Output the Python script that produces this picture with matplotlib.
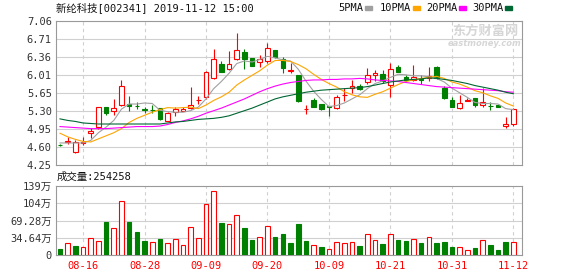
import matplotlib
matplotlib.use("Agg")
import matplotlib.pyplot as plt
from matplotlib.patches import Rectangle

# trading days shown on the chart
dates = ["08-13", "08-14", "08-15", "08-16", "08-19", "08-20", "08-21", "08-22", "08-23", "08-26",
         "08-27", "08-28", "08-29", "08-30", "09-02", "09-03", "09-04", "09-05", "09-06", "09-09",
         "09-10", "09-11", "09-12", "09-16", "09-17", "09-18", "09-19", "09-20", "09-23", "09-24",
         "09-25", "09-26", "09-27", "09-30", "10-08", "10-09", "10-10", "10-11", "10-14", "10-15",
         "10-16", "10-17", "10-18", "10-21", "10-22", "10-23", "10-24", "10-25", "10-28", "10-29",
         "10-30", "10-31", "11-01", "11-04", "11-05", "11-06", "11-07", "11-08", "11-11", "11-12"]

opens = [4.65, 4.70, 4.50, 4.67, 4.87, 4.99, 5.38, 5.30, 5.42, 5.45,
         5.41, 5.34, 5.33, 5.36, 5.11, 5.28, 5.31, 5.36, 5.51, 5.58,
         5.94, 6.22, 6.12, 6.31, 6.45, 6.33, 6.26, 6.28, 6.49, 6.32,
         6.09, 6.00, 5.34, 5.51, 5.44, 5.40, 5.36, 5.61, 5.75, 5.79,
         5.87, 6.01, 6.02, 5.81, 6.16, 5.96, 5.91, 5.92, 5.94, 6.17,
         5.75, 5.52, 5.37, 5.50, 5.55, 5.42, 5.41, 5.42, 5.01, 5.05]
highs = [4.66, 4.79, 4.74, 4.80, 4.97, 5.39, 5.39, 5.54, 5.91, 5.60,
         5.47, 5.39, 5.42, 5.37, 5.28, 5.39, 5.38, 5.77, 5.60, 6.08,
         6.51, 6.27, 6.48, 6.83, 6.51, 6.34, 6.40, 6.64, 6.50, 6.35,
         6.25, 6.01, 5.42, 5.55, 5.45, 5.41, 5.62, 5.75, 5.91, 5.84,
         6.14, 6.10, 6.10, 6.25, 6.20, 6.01, 6.20, 6.00, 6.17, 6.18,
         5.80, 5.57, 5.62, 5.56, 5.56, 5.75, 5.47, 5.43, 5.19, 5.36]
lows = [4.62, 4.66, 4.49, 4.64, 4.78, 4.95, 5.23, 5.23, 5.40, 5.31,
        5.34, 5.27, 5.27, 5.13, 5.10, 5.21, 5.30, 5.35, 5.44, 5.53,
        5.93, 6.06, 6.11, 6.30, 6.12, 6.18, 6.17, 6.24, 6.34, 6.04,
        6.04, 5.48, 5.25, 5.38, 5.32, 5.21, 5.35, 5.49, 5.65, 5.71,
        5.84, 5.88, 5.85, 5.57, 6.06, 5.87, 5.88, 5.84, 5.88, 5.93,
        5.53, 5.38, 5.34, 5.49, 5.38, 5.38, 5.32, 5.38, 4.97, 5.01]
closes = [4.64, 4.71, 4.70, 4.69, 4.91, 5.38, 5.27, 5.36, 5.79, 5.40,
          5.40, 5.33, 5.32, 5.14, 5.27, 5.34, 5.35, 5.43, 5.52, 6.07,
          6.31, 6.07, 6.23, 6.49, 6.32, 6.19, 6.31, 6.53, 6.35, 6.14,
          6.10, 5.49, 5.35, 5.39, 5.34, 5.39, 5.58, 5.62, 5.79, 5.73,
          6.00, 6.05, 5.88, 6.12, 6.07, 5.91, 5.96, 5.91, 5.98, 5.94,
          5.55, 5.39, 5.46, 5.51, 5.42, 5.47, 5.40, 5.39, 5.05, 5.34]

ma5 = [4.68, 4.68, 4.68, 4.68, 4.73, 4.88, 4.99, 5.12, 5.34, 5.44,
       5.44, 5.46, 5.45, 5.32, 5.29, 5.28, 5.28, 5.31, 5.38, 5.54,
       5.74, 5.88, 6.04, 6.23, 6.28, 6.26, 6.31, 6.37, 6.34, 6.30,
       6.28, 6.12, 5.89, 5.69, 5.53, 5.39, 5.41, 5.46, 5.54, 5.62,
       5.74, 5.84, 5.89, 5.96, 6.02, 6.01, 5.99, 5.99, 5.97, 5.94,
       5.87, 5.75, 5.66, 5.57, 5.47, 5.45, 5.45, 5.44, 5.35, 5.33]
ma10 = [4.87, 4.80, 4.75, 4.71, 4.70, 4.76, 4.82, 4.88, 4.96, 5.08,
        5.16, 5.22, 5.28, 5.33, 5.37, 5.36, 5.37, 5.38, 5.35, 5.42,
        5.51, 5.58, 5.67, 5.81, 5.91, 6.00, 6.09, 6.20, 6.29, 6.29,
        6.27, 6.21, 6.13, 6.02, 5.92, 5.84, 5.77, 5.68, 5.62, 5.58,
        5.57, 5.63, 5.68, 5.75, 5.82, 5.88, 5.91, 5.94, 5.96, 5.98,
        5.94, 5.87, 5.83, 5.77, 5.70, 5.66, 5.60, 5.55, 5.46, 5.40]
ma20 = [5.00, 4.99, 4.98, 4.97, 4.96, 4.96, 4.96, 4.97, 4.98, 4.99,
        5.00, 5.00, 5.00, 5.01, 5.04, 5.08, 5.11, 5.15, 5.20, 5.26,
        5.31, 5.36, 5.42, 5.48, 5.54, 5.61, 5.68, 5.74, 5.79, 5.83,
        5.86, 5.88, 5.90, 5.91, 5.91, 5.92, 5.92, 5.93, 5.93, 5.94,
        5.93, 5.91, 5.90, 5.89, 5.88, 5.86, 5.84, 5.82, 5.80, 5.78,
        5.77, 5.76, 5.75, 5.74, 5.73, 5.72, 5.71, 5.70, 5.68, 5.67]
ma30 = [5.15, 5.12, 5.10, 5.07, 5.06, 5.05, 5.05, 5.05, 5.05, 5.05,
        5.05, 5.05, 5.05, 5.05, 5.07, 5.09, 5.10, 5.12, 5.14, 5.15,
        5.16, 5.18, 5.21, 5.26, 5.31, 5.36, 5.42, 5.48, 5.54, 5.58,
        5.61, 5.64, 5.67, 5.69, 5.71, 5.72, 5.73, 5.74, 5.75, 5.76,
        5.78, 5.81, 5.84, 5.87, 5.89, 5.91, 5.92, 5.93, 5.95, 5.94,
        5.92, 5.90, 5.87, 5.84, 5.80, 5.77, 5.74, 5.71, 5.67, 5.64]

# volume in 万 (10k), and whether the bar is drawn red (1) or green (0)
volumes = [12.0, 23.4, 18.1, 15.4, 33.5, 28.1, 66.3, 53.6, 107.8, 66.3,
           46.2, 28.1, 25.4, 32.1, 23.4, 31.5, 19.4, 55.6, 33.5, 101.8,
           127.9, 64.3, 61.6, 79.7, 54.2, 30.1, 35.5, 57.6, 36.1, 41.5,
           24.1, 62.3, 28.1, 19.4, 16.1, 11.4, 25.4, 23.4, 25.4, 18.1,
           41.5, 30.1, 22.1, 41.5, 30.1, 28.1, 31.5, 24.1, 35.5, 24.1,
           25.4, 16.1, 15.4, 9.4, 14.1, 30.1, 20.1, 10.0, 26.1, 25.4258]
volume_up = [0, 1, 0, 1, 1, 1, 0, 1, 1, 0, 0, 0, 1, 0, 1, 1, 1, 1, 1, 1,
             1, 0, 1, 1, 0, 0, 1, 1, 0, 0, 0, 0, 0, 1, 0, 1, 1, 1, 1, 0,
             1, 1, 0, 1, 0, 0, 1, 0, 1, 0, 0, 0, 1, 1, 0, 1, 0, 0, 0, 1]

price_ticks = [7.06, 6.71, 6.36, 6.01, 5.65, 5.30, 4.95, 4.60, 4.25]
volume_ticks = [0, 34.64, 69.28, 103.92, 138.56]
volume_tick_labels = ["0", "34.64万", "69.28万", "104万", "139万"]
date_labels = ["08-16", "08-28", "09-09", "09-20", "10-09", "10-21", "10-31", "11-12"]
ma_names = ["5PMA", "10PMA", "20PMA", "30PMA"]

RED = "#ff0000"
GREEN = "#008000"
MA_COLORS = ["#a0a0a0", "#ffa500", "#ff00ff", "#006633"]
FRAME = "#999999"
GRID = "#d0d0d0"

plt.rcParams["font.family"] = ["DejaVu Sans Mono", "Noto Sans CJK SC"]
plt.rcParams["font.size"] = 7.5

W, H = 578, 276


def box(left, top, right, bottom):
    # pixel box -> figure fraction rect
    return [left / W, 1 - bottom / H, (right - left) / W, (bottom - top) / H]


fig = plt.figure(figsize=(W / 100, H / 100), dpi=100)
ax = fig.add_axes(box(56, 21, 522, 165))
axv = fig.add_axes(box(56, 186, 522, 255))

x = list(range(len(dates)))
tick_pos = [dates.index(d) for d in date_labels]

for a in (ax, axv):
    a.set_xlim(-0.52, 60.12)
    for s in a.spines.values():
        s.set_color(FRAME)
        s.set_linewidth(0.8)
    for p in tick_pos:
        a.axvline(p, color=GRID, lw=0.8, ls=(0, (3, 3)), zorder=0)
    a.tick_params(length=0, pad=3, labelcolor="#333333")

# price panel
ax.set_ylim(4.25, 7.06)
ax.set_yticks(price_ticks)
ax.set_yticklabels([f"{t:.2f}" for t in price_ticks])
ax.set_xticks([])
for t in price_ticks[1:-1]:
    ax.axhline(t, color=GRID, lw=0.8, zorder=0)

body_w = 0.6
for i in x:
    o, h, l, c = opens[i], highs[i], lows[i], closes[i]
    up = c >= o
    col = RED if up else GREEN
    ax.vlines(i, l, h, color=col, lw=0.8, zorder=2)
    ax.add_patch(Rectangle((i - body_w / 2, min(o, c)), body_w, max(abs(c - o), 0.001),
                           facecolor="white" if up else GREEN, edgecolor=col,
                           lw=0.8, zorder=3))

for vals, col in zip([ma5, ma10, ma20, ma30], MA_COLORS):
    ax.plot(x, vals, color=col, lw=0.8, zorder=4)

# volume panel
axv.set_ylim(0, 138.56)
axv.set_yticks(volume_ticks)
axv.set_yticklabels(volume_tick_labels)
axv.set_xticks(tick_pos)
axv.set_xticklabels(date_labels, color=RED)
axv.tick_params(axis="x", pad=4, labelcolor=RED)
for t in volume_ticks[1:-1]:
    axv.axhline(t, color=GRID, lw=0.8, zorder=0)

for i in x:
    col = RED if volume_up[i] else GREEN
    axv.add_patch(Rectangle((i - 0.3, 0), 0.6, volumes[i],
                            facecolor="white" if volume_up[i] else GREEN,
                            edgecolor=col, lw=0.8, zorder=3))

# header texts
fig.text(56 / W, 1 - 8 / H, "新纶科技[002341] 2019-11-12 15:00", va="center", color="#111111")
fig.text(57 / W, 1 - 177 / H, f"成交量:{round(volumes[-1] * 10000)}", va="center", color="#111111")

legend_x = [338, 380, 426, 472]
swatch_x = [365, 413, 459, 505]
for name, col, tx, sx in zip(ma_names, MA_COLORS, legend_x, swatch_x):
    fig.text(tx / W, 1 - 8 / H, name, va="center", color="#111111")
    fig.patches.append(Rectangle((sx / W, 1 - 9.5 / H), 7 / W, 3 / H,
                                 transform=fig.transFigure, color=col))

# watermark
fig.text(485 / W, 1 - 31 / H, "东方财富网", ha="center", va="center", color="#d6d6d6",
         fontsize=9.5, fontweight="bold", family=["Noto Sans CJK SC"])
fig.text(485 / W, 1 - 43.5 / H, "eastmoney.com", ha="center", va="center", color="#d6d6d6",
         fontsize=6, fontweight="bold", style="italic", family=["DejaVu Sans"])

fig.savefig("out.png", dpi=100)
